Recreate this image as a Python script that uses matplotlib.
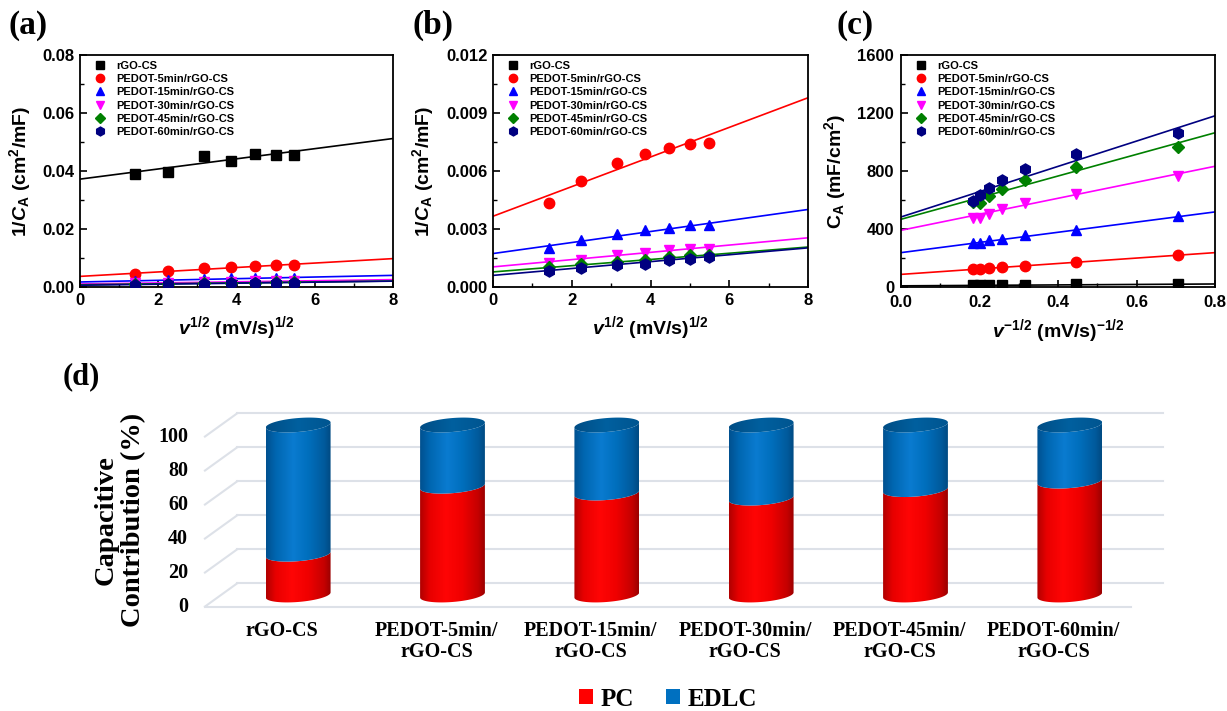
import numpy as np
import matplotlib
matplotlib.use('Agg')
import matplotlib.pyplot as plt
from matplotlib.path import Path
from matplotlib.patches import PathPatch, Patch
from matplotlib.colors import LinearSegmentedColormap
from matplotlib.ticker import MultipleLocator, FormatStrFormatter

plt.rcParams['font.family'] = ['Liberation Sans', 'DejaVu Sans']
plt.rcParams['font.weight'] = 'bold'
plt.rcParams['axes.labelweight'] = 'bold'
plt.rcParams['mathtext.fontset'] = 'custom'
plt.rcParams['mathtext.rm'] = 'Liberation Sans:bold'
plt.rcParams['mathtext.it'] = 'Liberation Sans:italic:bold'
plt.rcParams['mathtext.bf'] = 'Liberation Sans:bold'

# ---- data ----
names = ['rGO-CS', 'PEDOT-5min/rGO-CS', 'PEDOT-15min/rGO-CS',
         'PEDOT-30min/rGO-CS', 'PEDOT-45min/rGO-CS', 'PEDOT-60min/rGO-CS']

x_sqrt = [1.41, 2.24, 3.16, 3.87, 4.47, 5.00, 5.48]      # v^1/2
x_inv = [0.707, 0.447, 0.316, 0.258, 0.224, 0.200, 0.183]  # v^-1/2

# 1/C_A (cm2/mF), panels (a) and (b)
inv_rgo = [0.0391, 0.0397, 0.0451, 0.0435, 0.0458, 0.0455, 0.0455]
inv_p5 = [0.00432, 0.00547, 0.00642, 0.00687, 0.00717, 0.00742, 0.00746]
inv_p15 = [0.00202, 0.00245, 0.00276, 0.00294, 0.00306, 0.00319, 0.00319]
inv_p30 = [0.00126, 0.00142, 0.00164, 0.00178, 0.00190, 0.00199, 0.00199]
inv_p45 = [0.00104, 0.00117, 0.00130, 0.00142, 0.00155, 0.00164, 0.00164]
inv_p60 = [0.00083, 0.00098, 0.00112, 0.00121, 0.00138, 0.00147, 0.00155]
# linear fits (intercept, slope)
inv_fit = [(0.0372, 0.00175), (0.00366, 0.000766), (0.00173, 0.000285),
           (0.00104, 0.000188), (0.00078, 0.000161), (0.00060, 0.000178)]

# C_A (mF/cm2), panel (c)
ca_rgo = [20, 19, 13, 12, 12, 11, 11]
ca_p5 = [219, 173, 145, 138, 131, 127, 124]
ca_p15 = [488, 396, 357, 331, 322, 306, 306]
ca_p30 = [764, 640, 582, 536, 506, 476, 476]
ca_p45 = [967, 829, 737, 679, 628, 580, 587]
ca_p60 = [1064, 914, 813, 741, 684, 633, 592]
ca_fit = [(8, 16), (87, 187.5), (237, 351), (391, 552), (467, 746), (483, 872)]

# capacitive contribution (%), panel (d)
cat_labels = ['rGO-CS', 'PEDOT-5min/\nrGO-CS', 'PEDOT-15min/\nrGO-CS',
              'PEDOT-30min/\nrGO-CS', 'PEDOT-45min/\nrGO-CS', 'PEDOT-60min/\nrGO-CS']
pc = [24, 64, 60, 57, 62, 67]
edlc = [76, 36, 40, 43, 38, 33]
pct_ticks = [0, 20, 40, 60, 80, 100]

colors = ['black', 'red', 'blue', 'magenta', '#008000', '#000080']
markers = ['s', 'o', '^', 'v', 'D', 'h']
msizes = [6.5, 7.5, 7.5, 7.5, 6, 8]

W, H = 1227, 711
fig = plt.figure(figsize=(W / 100, H / 100), dpi=100)


def panel(rect, x, ys, fits, xlim, ylim, xmaj, ymaj, xfmt, yfmt, xlabel, ylabel):
    ax = fig.add_axes([rect[0] / W, 1 - rect[3] / H, (rect[2] - rect[0]) / W, (rect[3] - rect[1]) / H])
    xx = np.array(xlim, dtype=float)
    for i in range(6):
        b, m = fits[i]
        ax.plot(xx, b + m * xx, color=colors[i], lw=1.2, zorder=2)
    for i in range(6):
        ax.plot(x, ys[i], ls='none', marker=markers[i], ms=msizes[i], color=colors[i],
                mec=colors[i], label=names[i], zorder=3)
    ax.set_xlim(xlim)
    ax.set_ylim(ylim)
    ax.xaxis.set_major_locator(MultipleLocator(xmaj))
    ax.xaxis.set_minor_locator(MultipleLocator(xmaj / 2))
    ax.yaxis.set_major_locator(MultipleLocator(ymaj))
    ax.yaxis.set_minor_locator(MultipleLocator(ymaj / 2))
    ax.xaxis.set_major_formatter(FormatStrFormatter(xfmt))
    ax.yaxis.set_major_formatter(FormatStrFormatter(yfmt))
    ax.tick_params(which='major', direction='in', length=5, width=1.2, labelsize=12, pad=4)
    ax.tick_params(which='minor', direction='in', length=3, width=1.0)
    for s in ax.spines.values():
        s.set_linewidth(1.3)
    ax.set_xlabel(xlabel, fontsize=14, labelpad=5)
    ax.set_ylabel(ylabel, fontsize=14, labelpad=7)
    ax.legend(loc='upper left', bbox_to_anchor=(0.032, 0.995), borderaxespad=0, frameon=False,
              prop=dict(size=8, weight='bold'), handlelength=1.0, handletextpad=1.0,
              labelspacing=0.3, numpoints=1, markerscale=0.8, borderpad=0.4)
    return ax


ys_inv = [inv_rgo, inv_p5, inv_p15, inv_p30, inv_p45, inv_p60]
ys_ca = [ca_rgo, ca_p5, ca_p15, ca_p30, ca_p45, ca_p60]
xl_sqrt = r'$\mathit{v}^{1/2}$ (mV/s)$^{1/2}$'
yl_inv = r'$\mathit{1/C}_{\mathrm{A}}$ (cm$^{2}$/mF)'

panel((80, 55, 393, 287), x_sqrt, ys_inv, inv_fit, (0, 8), (0, 0.08), 2, 0.02, '%d', '%.2f', xl_sqrt, yl_inv)
panel((493, 55, 808, 287), x_sqrt, ys_inv, inv_fit, (0, 8), (0, 0.012), 2, 0.003, '%d', '%.3f', xl_sqrt, yl_inv)
axc = panel((901, 55, 1215, 287), x_inv, ys_ca, ca_fit, (0, 0.8), (0, 1600), 0.2, 400, '%.1f', '%d',
            r'$\mathit{v}^{-1/2}$ (mV/s)$^{-1/2}$', r'$\mathrm{C}_{\mathrm{A}}$ (mF/cm$^{2}$)')
axc.tick_params(axis='y', pad=5)
axc.tick_params(axis='x', pad=6)

serif = dict(family=['Liberation Serif', 'DejaVu Serif'], weight='bold')
for lab, px in [('(a)', 8), ('(b)', 412), ('(c)', 837)]:
    fig.text(px / W, 1 - 10 / H, lab, fontsize=24, va='top', ha='left', **serif)
fig.text(63 / W, 1 - 362 / H, '(d)', fontsize=22, va='top', ha='left', **serif)

# ---- panel (d): pseudo-3D cylinders ----
# percent axis: 0 -> y=595 px, 1.7 px per percent; extra room for the ellipses
ylo, yhi = -14, 110
axd = fig.add_axes([221 / W, 1 - (595 - ylo * 1.7) / H, 926 / W, (yhi - ylo) * 1.7 / H])
axd.axis('off')
dx, dy = 0.104, 6.8          # depth offset (category units, percent units)
grid_c = '#dde1e8'
for v in pct_ticks:
    axd.plot([-0.5 + dx, 5.5 + dx], [v + dy, v + dy], color=grid_c, lw=1.5, zorder=1, clip_on=False)
    axd.plot([-0.5 - dx, -0.5 + dx], [v - dy, v + dy], color=grid_c, lw=1.5, zorder=1, clip_on=False)
    axd.text(-0.714, v - dy, str(v), ha='right', va='center', fontsize=14.5, **serif)
axd.plot([-0.5 - dx, 5.5 - dx], [-dy, -dy], color=grid_c, lw=1.5, zorder=1, clip_on=False)

red_cm = LinearSegmentedColormap.from_list('r', [(0, '#b00000'), (0.15, '#e80000'), (0.4, '#ff0505'),
                                                 (0.65, '#f00000'), (0.9, '#c40000'), (1, '#9a0000')])
blue_cm = LinearSegmentedColormap.from_list('b', [(0, '#00508f'), (0.15, '#0066b0'), (0.42, '#0a7bd0'),
                                                  (0.65, '#006fbd'), (0.9, '#005a9c'), (1, '#004a82')])
cap_cm = LinearSegmentedColormap.from_list('c', [(0, '#004d85'), (0.5, '#00609f'), (1, '#005590')])

a, b, k = 0.21, 4.1, 1.5
t_half = np.linspace(np.pi, 2 * np.pi, 60)
t_full = np.linspace(0, 2 * np.pi, 120)


def body_path(cx, y0, y1):
    lo = np.column_stack([cx + a * np.cos(t_half), y0 + b * np.sin(t_half) + k * np.cos(t_half)])
    tr = t_half[::-1]
    up = np.column_stack([cx + a * np.cos(tr), y1 + b * np.sin(tr) + k * np.cos(tr)])
    return Path(np.vstack([lo, up, lo[:1]]), closed=True)


def cap_path(cx, y1):
    pts = np.column_stack([cx + a * np.cos(t_full), y1 + b * np.sin(t_full) + k * np.cos(t_full)])
    return Path(np.vstack([pts, pts[:1]]), closed=True)


def shade(path, cmap, cx, y0, y1):
    grad = np.linspace(0, 1, 256).reshape(1, -1)
    im = axd.imshow(grad, cmap=cmap, extent=[cx - a, cx + a, y0 - b - k, y1 + b + k],
                    aspect='auto', origin='lower', interpolation='bilinear', zorder=3)
    patch = PathPatch(path, facecolor='none', edgecolor='none', transform=axd.transData)
    axd.add_patch(patch)
    im.set_clip_path(patch)


for i in range(len(pc)):
    top = pc[i] + edlc[i]
    shade(body_path(i, 0, pc[i]), red_cm, i, 0, pc[i])
    shade(body_path(i, pc[i], top), blue_cm, i, pc[i], top)
    shade(cap_path(i, top), cap_cm, i, top, top)
    axd.text(i - dx, -15.5, cat_labels[i], ha='center', va='top', fontsize=14.5,
             linespacing=1.05, **serif)

axd.set_xlim(-0.5, 5.5)
axd.set_ylim(ylo, yhi)

fig.text(120 / W, 1 - 520 / H, 'Capacitive\nContribution (%)', rotation=90, ha='center', va='center',
         multialignment='center', fontsize=20.5, linespacing=1.15, **serif)

fig.legend(handles=[Patch(facecolor='#ff0000'), Patch(facecolor='#0070c0')], labels=['PC', 'EDLC'],
           ncol=2, loc='center', bbox_to_anchor=(668 / W, 1 - 699 / H), frameon=False,
           prop=dict(family='Liberation Serif', weight='bold', size=18),
           handlelength=0.55, handleheight=0.55, handletextpad=0.3, columnspacing=1.3)

fig.savefig('out.png', dpi=100)
